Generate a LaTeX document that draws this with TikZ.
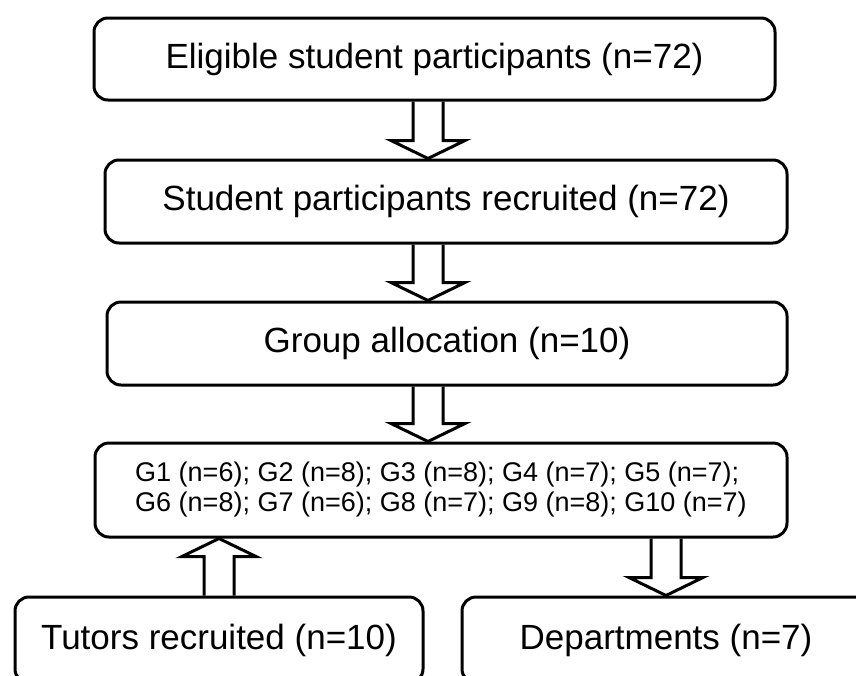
\documentclass[tikz,border=0pt]{standalone}
\usepackage{fontspec}
\setmainfont{Liberation Sans}
\usetikzlibrary{calc}

% hollow block arrow from one anchor to another
\newcommand{\blockarrow}[2]{%
  \draw[hollow] let \p1=(#1), \p2=(#2), \p3=($(#2)!18pt!(#1)$) in
    (\x1-15pt,\y1) -- (\x1-15pt,\y3) -- (\x1-37pt,\y3) -- (\x2,\y2)
    -- (\x1+37pt,\y3) -- (\x1+15pt,\y3) -- (\x1+15pt,\y1);
}

\begin{document}
\begin{tikzpicture}[x=1pt, y=-1pt,
  box/.style={rectangle, draw, line width=3pt, rounded corners=14pt, inner sep=0pt,
    font=\fontsize{35}{40}\selectfont},
  hollow/.style={draw, line width=3pt, line join=miter}]
\useasboundingbox (0,0) rectangle (856,675);
\clip (0,0) rectangle (856,675);
\node[box, minimum width=681pt, minimum height=82pt] (elig) at (434.5,59) {Eligible student participants (n=72)};
\node[box, minimum width=682pt, minimum height=83pt] (recr) at (446,201.5) {Student participants recruited (n=72)};
\node[box, minimum width=680pt, minimum height=83pt] (alloc) at (447,343.5) {Group allocation (n=10)};
\node[box, minimum width=692pt, minimum height=94pt, align=left,
  font=\fontsize{27}{30}\selectfont] (groups) at (441,490)
  {G1 (n=6); G2 (n=8); G3 (n=8); G4 (n=7); G5 (n=7);\\G6 (n=8); G7 (n=6); G8 (n=7); G9 (n=8); G10 (n=7)};
\node[box, minimum width=408pt, minimum height=86pt] (tutor) at (219,640) {Tutors recruited (n=10)};
\node[box, minimum width=408pt, minimum height=86pt] (dept) at (666,640) {Departments (n=7)};
\coordinate (ax) at (428,0);
\foreach \a/\b in {elig/recr, recr/alloc, alloc/groups}
  \blockarrow{\a.south -| ax}{\b.north -| ax};
\blockarrow{tutor.north}{groups.south -| tutor.north}
\blockarrow{groups.south -| dept.north}{dept.north}
\end{tikzpicture}
\end{document}
